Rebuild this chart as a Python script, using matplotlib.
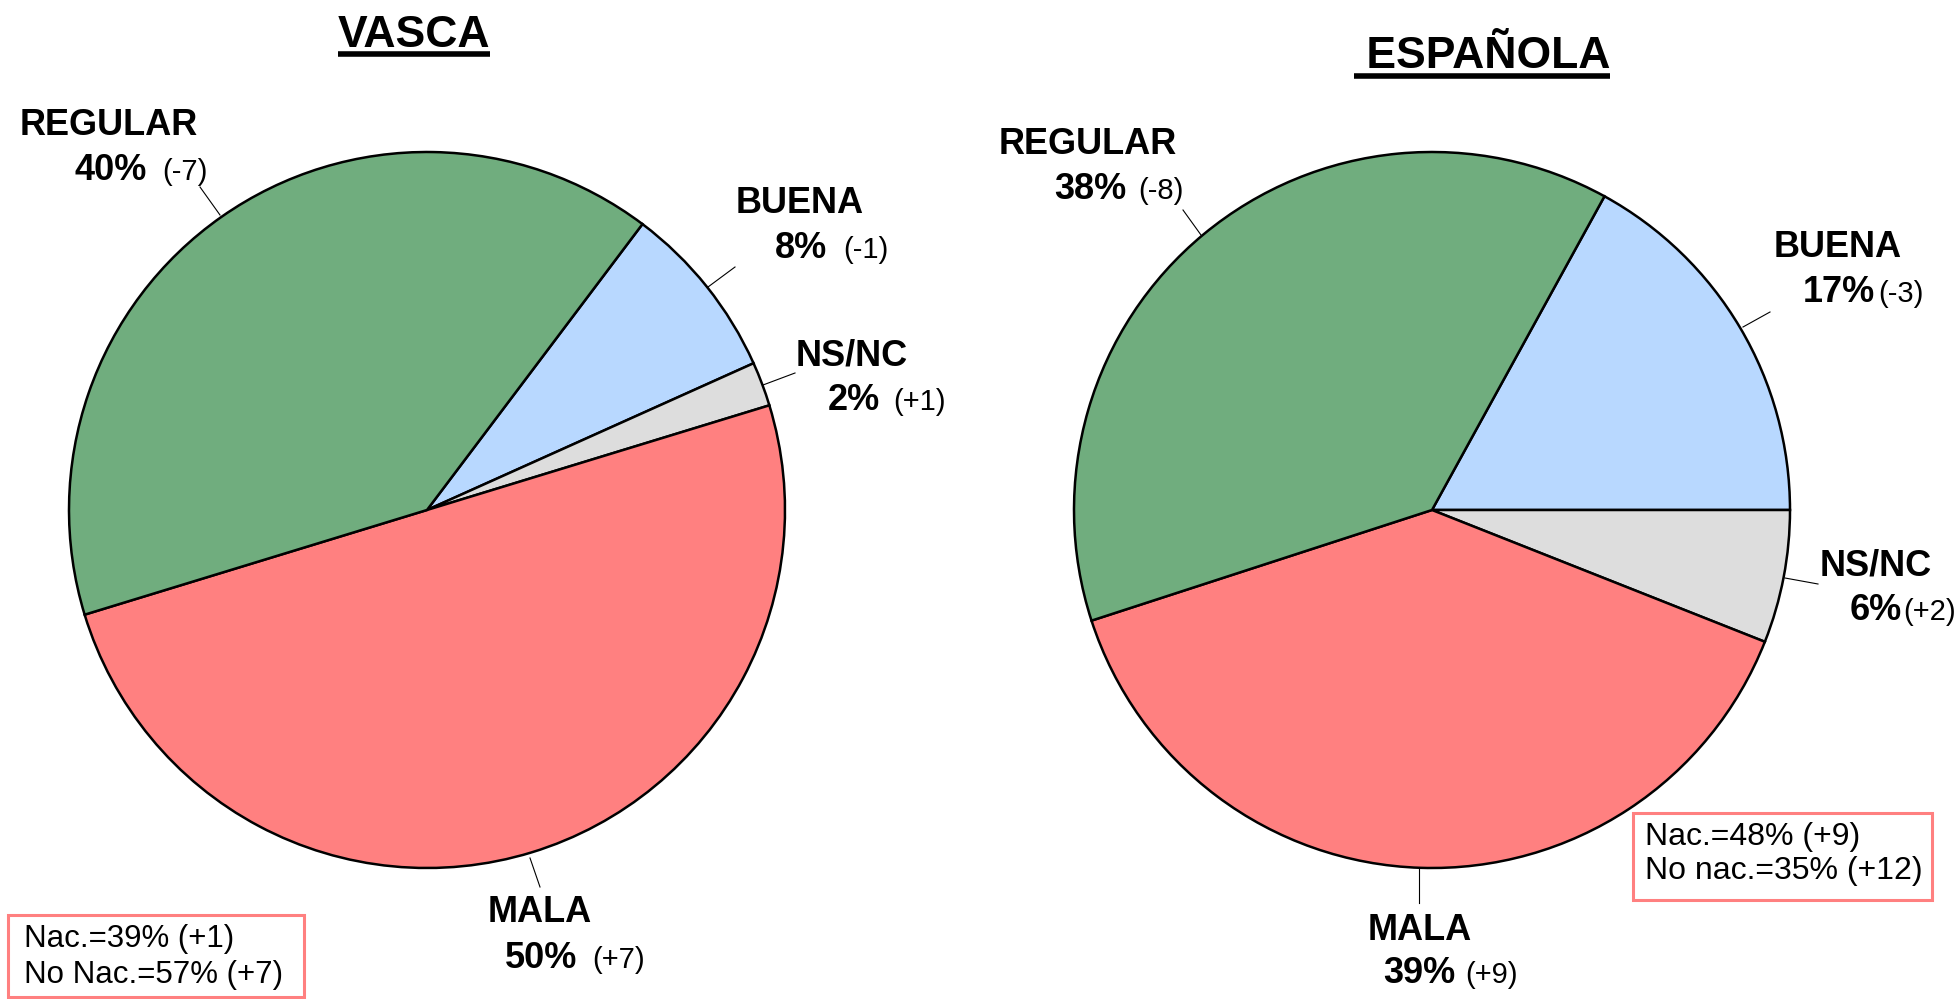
import matplotlib
matplotlib.use('Agg')
import matplotlib.pyplot as plt
from matplotlib.patches import Rectangle

# Data
categories    = ['BUENA', 'NS/NC', 'MALA', 'REGULAR']
vasca_pct     = [8, 2, 50, 40]
vasca_diff    = ['(-1)', '(+1)', '(+7)', '(-7)']
espanola_pct  = [17, 6, 39, 38]
espanola_diff = ['(-3)', '(+2)', '(+9)', '(-8)']

vasca_box    = ['Nac.=39% (+1)', 'No Nac.=57% (+7)']
espanola_box = ['Nac.=48% (+9)', 'No nac.=35% (+12)']

colors = ['#B8D8FF', '#DDDDDD', '#FF8080', '#70AD7E']

W, H = 1957, 999
FONT = ['Liberation Sans', 'DejaVu Sans']


def Y(y):
    # pixel from top -> data coordinate
    return H - y


fig = plt.figure(figsize=(W / 100, H / 100), dpi=100)
ax = fig.add_axes([0, 0, 1, 1])


def draw_pie(values, center, start):
    ax.pie(values, colors=colors, startangle=start, counterclock=False,
           center=(center[0], Y(center[1])), radius=358,
           wedgeprops=dict(edgecolor='black', linewidth=1.8))


draw_pie(vasca_pct, (427, 510), 53)
draw_pie(espanola_pct, (1432, 510), 61.2)

ax.set_xlim(0, W)
ax.set_ylim(0, H)
ax.set_aspect('equal')
ax.axis('off')

# label layout: (name center x, name baseline, pct right x, pct baseline, delta left x,
#                leader start, leader end)
vasca_layout = [
    (800, 213, 827, 258, 843, (708, 287), (735, 267)),
    (852, 365, 880, 410, 893, (763, 385), (795, 373)),
    (540, 922, 577, 968, 592, (530, 858), (540, 887)),
    (109, 135, 147, 180, 162, (220, 215), (200, 187)),
]

espanola_layout = [
    (1838, 257, 1875, 302, 1878, (1743, 327), (1770, 312)),
    (1876, 576, 1902, 620, 1903, (1785, 578), (1818, 584)),
    (1420, 940, 1455, 983, 1465, (1419, 868), (1419, 903)),
    (1088, 154, 1126, 199, 1138, (1201, 235), (1183, 210)),
]


def draw_labels(pcts, diffs, layout):
    for name, pct, diff, lay in zip(categories, pcts, diffs, layout):
        nx, ny, px, py, dx, p0, p1 = lay
        ax.text(nx, Y(ny), name, ha='center', va='baseline', fontsize=26,
                fontweight='bold', family=FONT)
        ax.text(px, Y(py), '%d%%' % pct, ha='right', va='baseline', fontsize=26,
                fontweight='bold', family=FONT)
        ax.text(dx, Y(py), diff, ha='left', va='baseline', fontsize=21, family=FONT)
        ax.plot([p0[0], p1[0]], [Y(p0[1]), Y(p1[1])], color='black', lw=0.8)


draw_labels(vasca_pct, vasca_diff, vasca_layout)
draw_labels(espanola_pct, espanola_diff, espanola_layout)

# Titles with underline
t1 = ax.text(414, Y(47), 'VASCA', ha='center', va='baseline', fontsize=32,
             fontweight='bold', family=FONT)
t2 = ax.text(1482, Y(68), ' ESPAÑOLA', ha='center', va='baseline', fontsize=32,
             fontweight='bold', family=FONT)
fig.canvas.draw()
for t, uy in [(t1, 54), (t2, 76)]:
    bb = t.get_window_extent()
    ax.plot([bb.x0, bb.x1], [Y(uy), Y(uy)], color='black', lw=4, solid_capstyle='butt')

# Boxes
for lines, (x0, y0, x1, y1), tx, base, fs in [
        (vasca_box, (8, 915, 304, 997), 24, (947, 983), 22.5),
        (espanola_box, (1633, 813, 1932, 900), 1645, (845, 879), 23)]:
    ax.add_patch(Rectangle((x0, Y(y1)), x1 - x0, y1 - y0, fill=False,
                           edgecolor='#FF8080', lw=2.2))
    for s, b in zip(lines, base):
        ax.text(tx, Y(b), s, ha='left', va='baseline', fontsize=fs, family=FONT)

fig.savefig('out.png', dpi=100, facecolor='white')
